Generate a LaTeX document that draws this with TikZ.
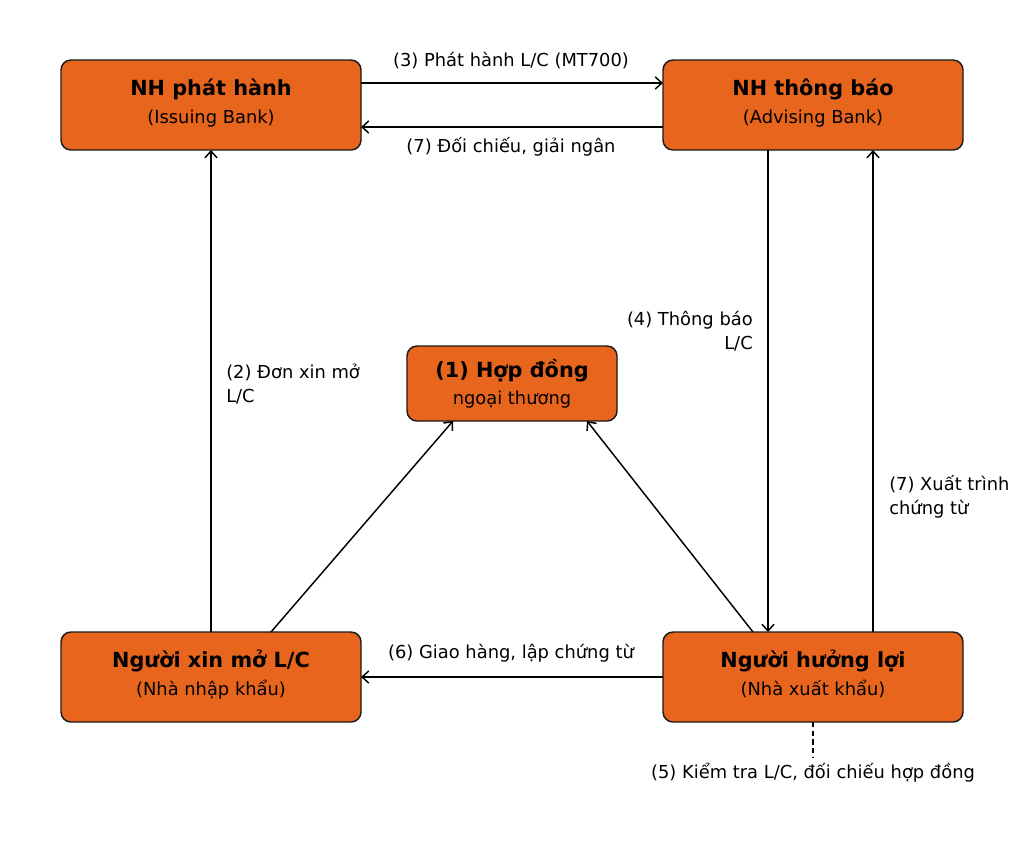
\documentclass[tikz,border=0pt]{standalone}
\usepackage{fontspec}
\setmainfont{DejaVu Sans}
\usetikzlibrary{arrows.meta}
\definecolor{boxorange}{HTML}{E8651E}
\definecolor{boxedge}{HTML}{1A1A1A}
\newcommand{\ttl}{\fontsize{15.6}{18}\selectfont\bfseries}
\newcommand{\bdy}{\fontsize{13.4}{18}\selectfont}
\begin{document}
\begin{tikzpicture}[x=0.75pt,y=-0.75pt,
  box/.style={draw=boxedge,fill=boxorange,line width=1.1pt,rounded corners=7.5pt,inner sep=0pt},
  bigbox/.style={box,minimum width=225pt,minimum height=67.5pt},
  smallbox/.style={box,minimum width=157.5pt,minimum height=56.25pt},
  txt/.style={inner sep=0pt,anchor=base,text=black},
  lbl/.style={inner sep=0pt,font=\bdy,text=black},
  conn/.style={draw=black,line width=1.1pt,-{Straight Barb[length=5pt,width=9pt,line width=1.1pt]}}
]
\useasboundingbox[fill=white] (0,0) rectangle (1024,843);
% boxes
\node[bigbox] (iss) at (211,105) {};
\node[bigbox] (adv) at (813,105) {};
\node[smallbox] (con) at (512,383.5) {};
\node[bigbox] (app) at (211,677) {};
\node[bigbox] (ben) at (813,677) {};
% box texts
\node[txt] (issT) at (211,95) {\ttl NH phát hành};
\node[txt] (issS) at (211,123) {\bdy (Issuing Bank)};
\node[txt] (advT) at (813,95) {\ttl NH thông báo};
\node[txt] (advS) at (813,123) {\bdy (Advising Bank)};
\node[txt] (conT) at (512,377.5) {\ttl (1) Hợp đồng};
\node[txt] (conS) at (512,404) {\bdy ngoại thương};
\node[txt] (appT) at (211,667) {\ttl Người xin mở L/C};
\node[txt] (appS) at (211,695) {\bdy (Nhà nhập khẩu)};
\node[txt] (benT) at (813,667) {\ttl Người hưởng lợi};
\node[txt] (benS) at (813,695) {\bdy (Nhà xuất khẩu)};
% connector anchors
\coordinate (issR1) at (361,83);
\coordinate (advL1) at (663,83);
\coordinate (advL2) at (663,127);
\coordinate (issR2) at (361,127);
\coordinate (appTop) at (211,632);
\coordinate (issBot) at (211,150);
\coordinate (advBot1) at (768,150);
\coordinate (benTop1) at (768,632);
\coordinate (benTop2) at (873,632);
\coordinate (advBot2) at (873,150);
\coordinate (appTop2) at (271,632);
\coordinate (conBotL) at (453,421);
\coordinate (benTop3) at (753,632);
\coordinate (conBotR) at (587,421);
\coordinate (benL) at (663,677);
\coordinate (appR) at (361,677);
\coordinate (benBot) at (813,722);
\coordinate (dashEnd) at (813,757);
% connectors
\draw[conn] (issR1) -- (advL1);
\draw[conn] (advL2) -- (issR2);
\draw[conn] (appTop) -- (issBot);
\draw[conn] (advBot1) -- (benTop1);
\draw[conn] (benTop2) -- (advBot2);
\draw[conn] (appTop2) -- (conBotL);
\draw[conn] (benTop3) -- (conBotR);
\draw[conn] (benL) -- (appR);
\draw[line width=1.1pt,dash pattern=on 4pt off 2.5pt] (benBot) -- (dashEnd);
% labels
\node[lbl] (l3) at (511,61) {(3) Phát hành L/C (MT700)};
\node[lbl] (l7a) at (511,147) {(7) Đối chiếu, giải ngân};
\node[lbl,anchor=west,align=left] (l2) at (226,384) {(2) Đơn xin mở\\L/C};
\node[lbl,anchor=east,align=right] (l4) at (753,331.5) {(4) Thông báo\\L/C};
\node[lbl,anchor=west,align=left] (l7b) at (889,496.5) {(7) Xuất trình\\chứng từ};
\node[lbl] (l6) at (511,653) {(6) Giao hàng, lập chứng từ};
\node[lbl] (l5) at (813,773) {(5) Kiểm tra L/C, đối chiếu hợp đồng};
\end{tikzpicture}
\end{document}
